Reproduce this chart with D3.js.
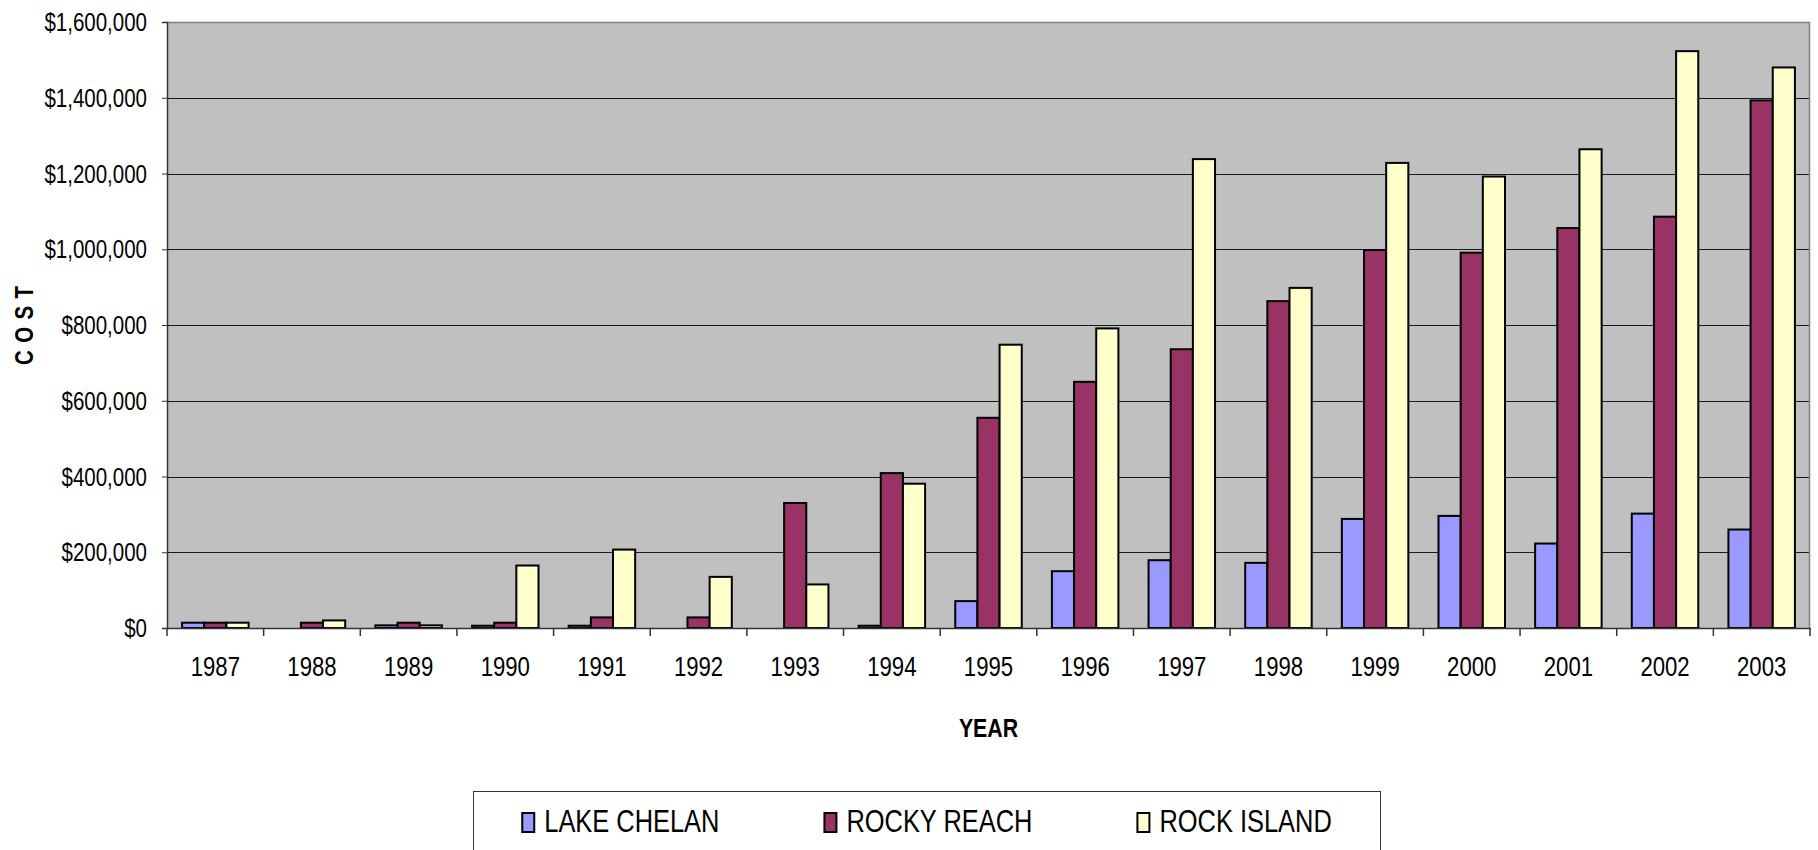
<!DOCTYPE html>
<html>
<head>
<meta charset="utf-8">
<script src="https://cdn.jsdelivr.net/npm/d3@7"></script>
<style>
  body { margin: 0; background: #fff; }
  svg { display: block; }
</style>
</head>
<body>
<div class="chart-container"></div>
<script>
// data
var years = ["1987", "1988", "1989", "1990", "1991", "1992", "1993", "1994", "1995",
             "1996", "1997", "1998", "1999", "2000", "2001", "2002", "2003"];
var seriesNames = ["LAKE CHELAN", "ROCKY REACH", "ROCK ISLAND"];
var lakeChelan = [14000, 0, 7000, 6000, 6000, 0, 0, 6000, 71000, 150000, 179000, 172000,
                  288000, 296000, 223000, 302000, 260000];
var rockyReach = [14000, 14000, 14000, 14000, 28000, 28000, 330000, 409000, 555000, 650000,
                  736000, 863000, 998000, 991000, 1056000, 1086000, 1393000];
var rockIsland = [14000, 20000, 7000, 165000, 207000, 135000, 115000, 381000, 748000, 791000,
                  1238000, 898000, 1228000, 1192000, 1264000, 1523000, 1480000];
var yTicks = [0, 200000, 400000, 600000, 800000, 1000000, 1200000, 1400000, 1600000];
var colors = ["#9999FF", "#993366", "#FFFFCC"];

// pick a narrow face if one is installed, else squeeze a regular one
function fontOK(name) {
    var c = document.createElement("canvas").getContext("2d");
    var s = "ROCKY REACH $1,600,000";
    c.font = "40px monospace";
    var a = c.measureText(s).width;
    c.font = "40px '" + name + "', monospace";
    return c.measureText(s).width !== a;
}
var NARROW = fontOK("Liberation Sans Narrow") ? "'Liberation Sans Narrow'" :
             (fontOK("Arial Narrow") ? "'Arial Narrow'" : null);
var FONT = NARROW || "'Liberation Sans', Arial, sans-serif";
function squeeze(sel) {
    if (NARROW) return;
    sel.each(function() {
        var l = this.getComputedTextLength();
        this.setAttribute("textLength", l * 0.82);
        this.setAttribute("lengthAdjust", "spacingAndGlyphs");
    });
}

var W = 1818, H = 850;
var margin = {top: 22, right: 8, bottom: 222, left: 167},
    width = W - margin.left - margin.right,
    height = H - margin.top - margin.bottom;

var data = years.map(function(y, i) {
    return {year: y, values: [lakeChelan[i], rockyReach[i], rockIsland[i]]};
});

var x0 = d3.scaleBand().domain(years).range([0, width]).padding(0);
var gap = x0.bandwidth() * 0.156;
var x1 = d3.scaleBand().domain(seriesNames).range([gap, x0.bandwidth() - gap]).padding(0);
var y = d3.scaleLinear().domain([0, 1600000]).range([height, 0]);

var svg = d3.select(".chart-container").append("svg")
    .attr("width", W)
    .attr("height", H)
    .style("font-family", FONT);

svg.append("rect").attr("width", W).attr("height", H).attr("fill", "#fff");

var plot = svg.append("g")
    .attr("transform", "translate(" + margin.left + "," + margin.top + ")");

plot.append("rect")
    .attr("width", width)
    .attr("height", height)
    .attr("fill", "#C0C0C0");

// gridlines
plot.append("g").selectAll("line")
    .data(yTicks.slice(1))
    .enter().append("line")
    .attr("x1", 0).attr("x2", width)
    .attr("y1", function(d) { return Math.round(y(d)) + 0.5; })
    .attr("y2", function(d) { return Math.round(y(d)) + 0.5; })
    .attr("stroke", "#1a1a1a")
    .attr("stroke-width", 1);

// top and right border of plot area
plot.append("path")
    .attr("d", "M0,0.5H" + (width - 0.5) + "V" + height)
    .attr("fill", "none")
    .attr("stroke", "#808080")
    .attr("stroke-width", 1.5);

// bars
var groups = plot.append("g").selectAll("g")
    .data(data)
    .enter().append("g")
    .attr("transform", function(d) { return "translate(" + x0(d.year) + ",0)"; });

groups.selectAll("rect")
    .data(function(d) { return d.values.map(function(v, i) { return {name: seriesNames[i], val: v, i: i}; }); })
    .enter().filter(function(d) { return d.val > 0; })
    .append("rect")
    .attr("x", function(d) { return x1(d.name); })
    .attr("width", x1.bandwidth())
    .attr("y", function(d) { return y(d.val); })
    .attr("height", function(d) { return height - y(d.val); })
    .attr("fill", function(d) { return colors[d.i]; })
    .attr("stroke", "#000")
    .attr("stroke-width", 2);

// axes
var yAxis = d3.axisLeft(y).tickValues(yTicks).tickFormat(d3.format("$,"))
    .tickSize(5).tickPadding(15);
var gy = plot.append("g").attr("class", "y axis").call(yAxis);
gy.select(".domain").attr("stroke", "#333").attr("stroke-width", 1.5);
gy.selectAll(".tick line").attr("stroke", "#333");
gy.selectAll(".tick text")
    .attr("fill", "#000")
    .style("font-size", "25px")
    .attr("dy", "0.34em")
    .call(squeeze);

var xAxis = d3.axisBottom(x0).tickSize(0).tickPadding(0);
var gx = plot.append("g").attr("class", "x axis")
    .attr("transform", "translate(0," + height + ")")
    .call(xAxis);
gx.select(".domain").attr("stroke", "#333").attr("stroke-width", 1.5);
gx.selectAll(".tick text")
    .attr("fill", "#000")
    .attr("y", 29)
    .attr("dy", "0.72em")
    .style("font-size", "27px")
    .call(squeeze);

// category boundary ticks
gx.append("g").selectAll("line")
    .data(years.concat(["end"]))
    .enter().append("line")
    .attr("x1", function(d, i) { return i < years.length ? x0(d) : width; })
    .attr("x2", function(d, i) { return i < years.length ? x0(d) : width; })
    .attr("y1", 0).attr("y2", 8)
    .attr("stroke", "#333")
    .attr("stroke-width", 1.5);

// axis titles
svg.append("text")
    .attr("x", margin.left + width / 2)
    .attr("y", 737)
    .attr("text-anchor", "middle")
    .style("font-size", "26px")
    .style("font-weight", "bold")
    .text("YEAR")
    .call(squeeze);

svg.append("text")
    .attr("transform", "translate(33," + (margin.top + height / 2) + ") rotate(-90)")
    .attr("text-anchor", "middle")
    .style("font-size", "25px")
    .style("font-weight", "bold")
    .style("letter-spacing", "1px")
    .text("C O S T")
    .call(squeeze);

// legend
var legend = svg.append("g");
legend.append("rect")
    .attr("x", 473.5).attr("y", 791.5)
    .attr("width", 907).attr("height", 100)
    .attr("fill", "#fff")
    .attr("stroke", "#333")
    .attr("stroke-width", 1);

var items = legend.selectAll("g.item")
    .data(seriesNames)
    .enter().append("g").attr("class", "item");

items.append("rect")
    .attr("width", 12).attr("height", 19)
    .attr("y", 813)
    .attr("fill", function(d, i) { return colors[i]; })
    .attr("stroke", "#000")
    .attr("stroke-width", 2);

items.append("text")
    .attr("x", 22)
    .attr("y", 832)
    .style("font-size", "31px")
    .text(function(d) { return d; })
    .call(squeeze);

// lay legend items out from their text widths, centred in the box
var itemGap = 105, lens = [];
items.select("text").each(function() {
    var tl = this.getAttribute("textLength");
    lens.push(tl ? +tl : this.getComputedTextLength());
});
var total = d3.sum(lens, function(l) { return 22 + l; }) + itemGap * (lens.length - 1);
var lx = 473.5 + 907 / 2 - total / 2;
items.each(function(d, i) {
    d3.select(this).attr("transform", "translate(" + lx + ",0)");
    lx += 22 + lens[i] + itemGap;
});
</script>
</body>
</html>
